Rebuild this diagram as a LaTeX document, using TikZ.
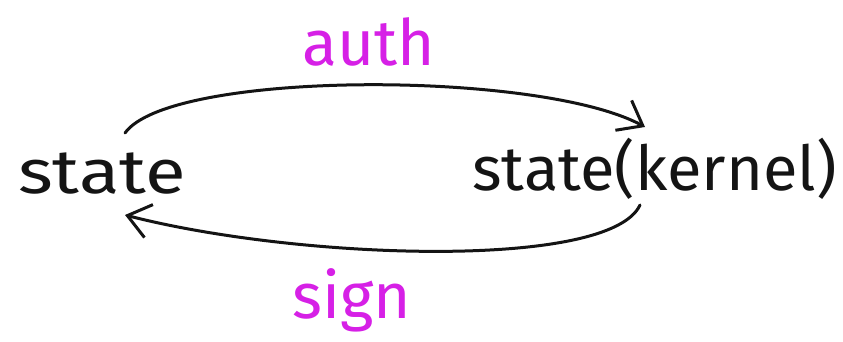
\documentclass[tikz,border=0pt]{standalone}
\usepackage{fontspec}
\setmainfont{Fira Sans}
\usetikzlibrary{arrows.meta}
\definecolor{hand}{RGB}{20,20,20}
\definecolor{pinkish}{RGB}{214,32,230}
\tikzset{
  word/.style={inner sep=0pt, anchor=base west, text=hand, font=\fontsize{62}{62}\selectfont},
  lbl/.style={inner sep=0pt, anchor=base west, text=pinkish, font=\fontsize{64}{64}\selectfont},
  arr/.style={draw=hand, line width=3pt, line cap=round, -{Straight Barb[length=22pt,width=34pt,line width=3pt]}}
}
\begin{document}
\begin{tikzpicture}[x=1pt,y=-1pt]
\useasboundingbox (0,0) rectangle (843,342);
\node[word] (L) at (18,193) {\scalebox{1.2}[1]{state}};
\node[word] (R) at (472,190) {\scalebox{1.02}[1]{state(kernel)}};
\node[lbl] (A) at (302,66) {auth};
\node[lbl] (S) at (292,318) {sign};
\coordinate (a1) at (125,133);
\coordinate (a2) at (645,127);
\coordinate (b1) at (640,205);
\coordinate (b2) at (125,215);
\draw[arr] (a1) .. controls (170,70) and (540,70) .. (a2);
\draw[arr] (b1) .. controls (610,270) and (300,260) .. (b2);
\end{tikzpicture}
\end{document}
